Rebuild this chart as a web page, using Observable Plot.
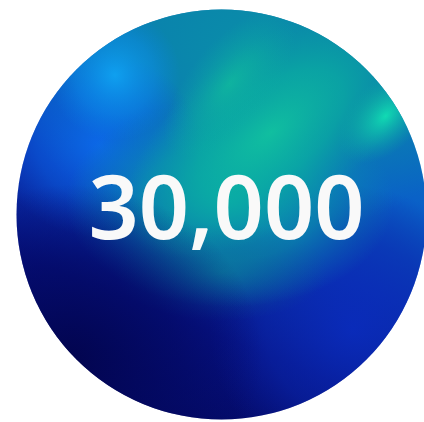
<!DOCTYPE html>
<html><head><meta charset="utf-8">
<script src="https://cdn.jsdelivr.net/npm/d3@7"></script>
<script src="https://cdn.jsdelivr.net/npm/@observablehq/plot@0.6"></script>
<style>
html,body{margin:0;padding:0;background:#fff;}
</style>
</head><body>
<div id="chart"></div>
<script>
// Data
const values = [30000];
const labels = ["30,000"];
const layers = ["base", "royal", "topteal", "leftblue", "lefthi", "center", "below", "green", "green2", "greenhi", "dark"];

const data = values.map((v, i) => ({value: v, label: labels[i]}));

const chart = Plot.plot({
  width: 424,
  height: 422,
  marginLeft: 18,
  marginRight: 0,
  marginTop: 6,
  marginBottom: 0,
  x: {axis: null},
  y: {axis: null},
  marks: [
    ...layers.map(l => Plot.dot(data, {frameAnchor: "middle", r: 205, fill: `url(#g-${l})`, stroke: "none"})),
    Plot.text(data, {
      frameAnchor: "middle",
      text: "label",
      fill: "#f9f9f9",
      fontSize: 88,
      fontWeight: 600,
      fontFamily: "Noto Sans",
      dx: 5,
      dy: -4
    })
  ]
});

const svg = d3.select(chart);
const defs = svg.insert("defs", ":first-child");
function radial(id, cx, cy, r, stops, transform) {
  const g = defs.append("radialGradient").attr("id", id)
    .attr("cx", cx).attr("cy", cy).attr("r", r);
  if (transform) g.attr("gradientTransform", transform);
  stops.forEach(([o, c, a]) => g.append("stop").attr("offset", o).attr("stop-color", c).attr("stop-opacity", a));
}
function tf(cx, cy, angle, sx, sy) {
  return `translate(${cx},${cy}) rotate(${angle}) scale(${sx},${sy}) translate(${-cx},${-cy})`;
}
const lin = defs.append("linearGradient").attr("id", "g-base")
  .attr("x1", 0.65).attr("y1", 0).attr("x2", 0.25).attr("y2", 1);
[[0, "#0a80b0"], [0.3, "#0a60c8"], [0.52, "#0a36b4"], [0.74, "#061282"], [1, "#03075c"]]
  .forEach(([o, c]) => lin.append("stop").attr("offset", o).attr("stop-color", c));
radial("g-royal", 0.82, 0.78, 0.35, [[0, "#0a2cc0", 0.8], [0.6, "#0a28b0", 0.5], [1, "#0a20a0", 0]]);
radial("g-topteal", 0.58, 0.12, 0.55, [[0, "#0a90a8", 0.95], [0.55, "#0a88a8", 0.7], [1, "#0a80b0", 0]], tf(0.58, 0.12, 0, 1.1, 0.8));
radial("g-leftblue", 0.2, 0.33, 0.25, [[0, "#0c6af0", 0.85], [0.6, "#0a5ee0", 0.5], [1, "#0a50d8", 0]], tf(0.2, 0.33, 0, 1, 0.9));
radial("g-lefthi", 0.24, 0.16, 0.16, [[0, "#10a8f8", 0.85], [0.6, "#0c90f0", 0.45], [1, "#0a80e8", 0]]);
radial("g-center", 0.52, 0.47, 0.32, [[0, "#0aa4ac", 0.95], [0.55, "#0a98ac", 0.65], [1, "#0a88b0", 0]], tf(0.52, 0.47, 0, 1.25, 0.8));
radial("g-below", 0.5, 0.64, 0.2, [[0, "#0a8098", 0.6], [1, "#0a6090", 0]], tf(0.5, 0.64, 0, 1.3, 0.6));
radial("g-green", 0.62, 0.3, 0.42, [[0, "#12cc9c", 0.8], [0.5, "#0ab89e", 0.55], [1, "#0aa0a0", 0]], tf(0.62, 0.3, -38, 1, 0.5));
radial("g-green2", 0.52, 0.18, 0.22, [[0, "#12c89a", 0.6], [1, "#0ab0a0", 0]], tf(0.52, 0.18, -50, 1, 0.45));
radial("g-greenhi", 0.9, 0.26, 0.14, [[0, "#12eab4", 0.85], [0.5, "#10c8a8", 0.45], [1, "#0aa8a0", 0]], tf(0.9, 0.26, -45, 1, 0.6));
radial("g-dark", 0.13, 0.85, 0.47, [[0, "#02044c", 0.9], [0.55, "#030860", 0.6], [1, "#040a6a", 0]], tf(0.13, 0.85, 0, 1, 0.9));

document.getElementById("chart").appendChild(chart);
</script>
</body></html>
